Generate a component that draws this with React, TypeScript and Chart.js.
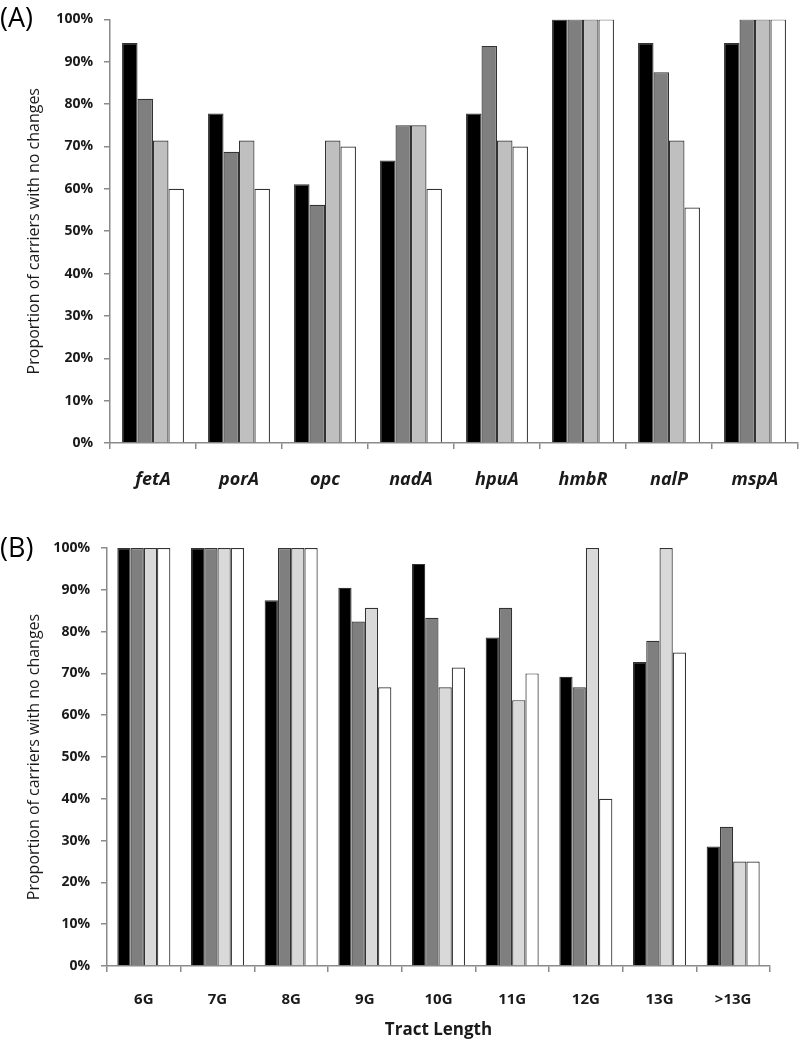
import React, { useEffect, useRef } from "react";
import { Chart, registerables } from "chart.js";

Chart.register(...registerables);

// Panel A data
const genesA = ["fetA", "porA", "opc", "nadA", "hpuA", "hmbR", "nalP", "mspA"];
const a1 = [94.4, 77.8, 61.1, 66.7, 77.8, 100, 94.4, 94.4];
const a2 = [81.25, 68.75, 56.25, 75, 93.75, 100, 87.5, 100];
const a3 = [71.4, 71.4, 71.4, 75, 71.4, 100, 71.4, 100];
const a4 = [60, 60, 70, 60, 70, 100, 55.6, 100];

// Panel B data
const tractsB = ["6G", "7G", "8G", "9G", "10G", "11G", "12G", "13G", ">13G"];
const b1 = [100, 100, 87.5, 90.5, 96.2, 78.6, 69.2, 72.7, 28.6];
const b2 = [100, 100, 100, 82.4, 83.3, 85.7, 66.7, 77.8, 33.3];
const b3 = [100, 100, 100, 85.7, 66.7, 63.6, 100, 100, 25];
const b4 = [100, 100, 100, 66.7, 71.4, 70, 40, 75, 25];

const yTicks = [0, 10, 20, 30, 40, 50, 60, 70, 80, 90, 100];

const FONT = "'Open Sans', 'Liberation Sans', sans-serif";
const BORDER = "#333333";
const AXIS = "#8a8a8a";

function makeDatasets(series: number[][], colors: string[]) {
  return series.map((d, i) => ({
    label: "Series " + (i + 1),
    data: d,
    backgroundColor: colors[i],
    borderColor: BORDER,
    borderWidth: 1.2,
    categoryPercentage: 0.72,
    barPercentage: 1,
  }));
}

function makeOptions(opts: {
  yWidth: number;
  xHeight: number;
  padTop: number;
  padRight: number;
  xFont: any;
  xPad: number;
  xTitle?: string;
}) {
  return {
    responsive: false,
    animation: false as const,
    layout: { padding: { top: opts.padTop, right: opts.padRight, left: 0, bottom: 0 } },
    plugins: { legend: { display: false }, tooltip: { enabled: false } },
    scales: {
      x: {
        type: "category" as const,
        grid: { display: true, drawOnChartArea: false, offset: true, tickLength: 6, color: AXIS, lineWidth: 1.5 },
        border: { display: true, color: AXIS, width: 1.5 },
        ticks: { font: opts.xFont, color: "#1a1a1a", padding: opts.xPad, maxRotation: 0 },
        title: opts.xTitle
          ? { display: true, text: opts.xTitle, font: { family: FONT, size: 17, weight: "bold" }, color: "#1a1a1a", padding: { top: 0, bottom: 3 } }
          : { display: false },
        afterFit: (s: any) => {
          s.height = opts.xHeight;
        },
      },
      y: {
        min: 0,
        max: 100,
        afterBuildTicks: (s: any) => {
          s.ticks = yTicks.map((v) => ({ value: v }));
        },
        grid: { display: true, drawOnChartArea: false, tickLength: 6, color: AXIS, lineWidth: 1.5 },
        border: { display: true, color: AXIS, width: 1.5 },
        ticks: {
          font: { family: FONT, size: 14, weight: "bold" },
          color: "#1a1a1a",
          padding: 11,
          callback: (v: any) => v + "%",
        },
        title: {
          display: true,
          text: "Proportion of carriers with no changes",
          font: { family: FONT, size: 16 },
          color: "#1a1a1a",
          padding: { top: 25, bottom: 0 },
        },
        afterFit: (s: any) => {
          s.width = opts.yWidth;
        },
      },
    },
  };
}

export default function App() {
  const refA = useRef<HTMLCanvasElement>(null);
  const refB = useRef<HTMLCanvasElement>(null);

  useEffect(() => {
    const chartA = new Chart(refA.current!, {
      type: "bar",
      data: {
        labels: genesA,
        datasets: makeDatasets([a1, a2, a3, a4], ["#000000", "#7f7f7f", "#bfbfbf", "#ffffff"]),
      },
      options: makeOptions({
        yWidth: 110,
        xHeight: 505 - 443,
        padTop: 13,
        padRight: 2,
        xFont: { family: FONT, size: 18, weight: "bold", style: "italic" },
        xPad: 20,
      }) as any,
    });
    const chartB = new Chart(refB.current!, {
      type: "bar",
      data: {
        labels: tractsB,
        datasets: makeDatasets([b1, b2, b3, b4], ["#000000", "#7f7f7f", "#d9d9d9", "#ffffff"]),
      },
      options: makeOptions({
        yWidth: 107,
        xHeight: 538 - 461,
        padTop: 43,
        padRight: 30,
        xFont: { family: FONT, size: 15, weight: "bold" },
        xPad: 19,
        xTitle: "Tract Length",
      }) as any,
    });
    return () => {
      chartA.destroy();
      chartB.destroy();
    };
  }, []);

  const panelLabel: React.CSSProperties = {
    position: "absolute",
    left: 0,
    fontFamily: FONT,
    fontSize: 27,
    lineHeight: "30px",
    color: "#000",
  };

  return (
    <div style={{ position: "absolute", left: 0, top: 0, width: 800, height: 1043, background: "#fff" }}>
      <canvas ref={refA} width={800} height={505} style={{ position: "absolute", left: 0, top: 0, width: 800, height: 505 }} />
      <canvas ref={refB} width={800} height={538} style={{ position: "absolute", left: 0, top: 505, width: 800, height: 538 }} />
      <div style={{ ...panelLabel, top: 2 }}>(A)</div>
      <div style={{ ...panelLabel, top: 532 }}>(B)</div>
    </div>
  );
}
